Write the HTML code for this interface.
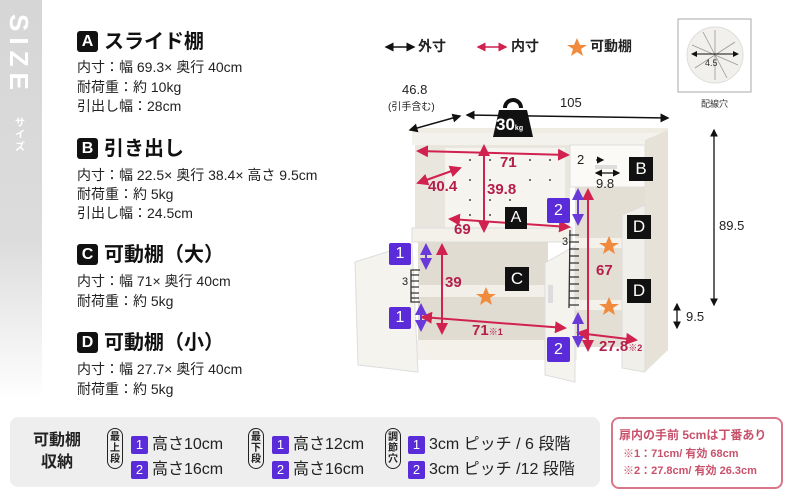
<!DOCTYPE html>
<html><head><meta charset="utf-8">
<style>
body{margin:0;width:800px;height:500px;overflow:hidden;background:#fff;position:relative;font-family:"Liberation Sans","Noto Sans CJK JP",sans-serif;color:#222}
.a{position:absolute;white-space:nowrap}
.side{position:absolute;left:0;top:0;width:42px;height:400px;background:linear-gradient(#d6d6d6 0%,#dcdcdc 60%,#fff 100%)}
.hd{font-size:20px;font-weight:bold;color:#111}
.bx{display:inline-block;width:21px;height:21px;background:#111;color:#fff;border-radius:3px;text-align:center;line-height:21px;font-size:16px;margin-right:6px;vertical-align:2px}
.ln{font-size:14px;color:#222}
.pb{display:inline-block;width:17px;height:18px;background:#5a2bd9;color:#fff;text-align:center;line-height:18px;font-size:13px;border-radius:2px;margin-right:4px}
.row{font-size:16px;color:#222}
.oval{position:absolute;border:1.5px solid #222;border-radius:9px;width:14px;font-size:10px;line-height:11px;text-align:center;font-weight:bold;padding:3px 0}
</style></head><body>
<div class="side"></div>
<div class="a" style="left:10px;top:60px;transform:rotate(90deg);transform-origin:left top;left:34px;top:14px;color:#fff;font-size:26px;font-weight:bold;letter-spacing:6px">SIZE</div>
<div class="a" style="left:15px;top:118px;color:#fff;font-size:10px;width:12px;line-height:12px;white-space:normal;font-weight:bold">サイズ</div>

<div class="a hd" style="left:77px;top:25px"><span class="bx">A</span>スライド棚</div>
<div class="a ln" style="left:77px;top:57px">内寸：幅 69.3× 奥行 40cm</div>
<div class="a ln" style="left:77px;top:77px">耐荷重：約 10kg</div>
<div class="a ln" style="left:77px;top:96px">引出し幅：28cm</div>
<div class="a hd" style="left:77px;top:132px"><span class="bx">B</span>引き出し</div>
<div class="a ln" style="left:77px;top:165px">内寸：幅 22.5× 奥行 38.4× 高さ 9.5cm</div>
<div class="a ln" style="left:77px;top:184px">耐荷重：約 5kg</div>
<div class="a ln" style="left:77px;top:203px">引出し幅：24.5cm</div>
<div class="a hd" style="left:77px;top:238px"><span class="bx">C</span>可動棚（大）</div>
<div class="a ln" style="left:77px;top:271px">内寸：幅 71× 奥行 40cm</div>
<div class="a ln" style="left:77px;top:291px">耐荷重：約 5kg</div>
<div class="a hd" style="left:77px;top:326px"><span class="bx">D</span>可動棚（小）</div>
<div class="a ln" style="left:77px;top:359px">内寸：幅 27.7× 奥行 40cm</div>
<div class="a ln" style="left:77px;top:379px">耐荷重：約 5kg</div>

<svg class="a" style="left:0;top:0" width="800" height="500">
<defs>
<marker id="k" markerWidth="6" markerHeight="6" refX="5" refY="3" orient="auto-start-reverse"><path d="M0,0L6,3L0,6z" fill="#111"/></marker>
<marker id="r" markerWidth="6" markerHeight="6" refX="5" refY="3" orient="auto-start-reverse"><path d="M0,0L6,3L0,6z" fill="#d0214f"/></marker>
<marker id="p" markerWidth="6" markerHeight="6" refX="5" refY="3" orient="auto-start-reverse"><path d="M0,0L6,3L0,6z" fill="#6a3ad8"/></marker>
</defs>
<!-- legend -->
<line x1="386" y1="47" x2="414" y2="47" stroke="#111" stroke-width="1.5" marker-start="url(#k)" marker-end="url(#k)"/>
<line x1="478" y1="47" x2="506" y2="47" stroke="#d0214f" stroke-width="1.5" marker-start="url(#r)" marker-end="url(#r)"/>
<polygon points="577,38 580,45 587,45 581,49 583,56 577,52 571,56 573,49 567,45 574,45" fill="#f08a3c"/>
<!-- wiring hole -->
<rect x="678" y="19" width="73" height="73" fill="#fff" stroke="#aaa"/>
<circle cx="715" cy="55" r="28" fill="#f2f0ec" stroke="#ddd"/>
<g stroke="#999" stroke-width="0.8"><line x1="715" y1="30" x2="715" y2="80"/><line x1="692" y1="45" x2="738" y2="65"/><line x1="695" y1="68" x2="735" y2="42"/><line x1="703" y1="32" x2="727" y2="78"/></g>
<line x1="692" y1="54" x2="738" y2="54" stroke="#111" marker-start="url(#k)" marker-end="url(#k)"/>
<!-- cabinet -->
<polygon points="412,132 420,128 668,128 668,133 412,143" fill="#efece4"/>
<rect x="412" y="133" width="253" height="12" fill="#f4f2ec"/>
<polygon points="645,140 668,130 668,350 645,372" fill="#e6e2d8"/>
<rect x="415" y="145" width="155" height="85" fill="#e9e6de"/>
<rect x="445" y="148" width="120" height="80" fill="#f6f4ef"/>
<g fill="#444">
<circle cx="470" cy="160" r="1"/><circle cx="490" cy="160" r="1"/><circle cx="510" cy="160" r="1"/><circle cx="530" cy="160" r="1"/><circle cx="550" cy="160" r="1"/>
<circle cx="470" cy="180" r="1"/><circle cx="490" cy="180" r="1"/><circle cx="530" cy="180" r="1"/><circle cx="550" cy="180" r="1"/>
<circle cx="470" cy="200" r="1"/><circle cx="490" cy="200" r="1"/><circle cx="510" cy="200" r="1"/><circle cx="550" cy="200" r="1"/>
<circle cx="470" cy="215" r="1"/><circle cx="490" cy="215" r="1"/></g>
<rect x="412" y="228" width="160" height="14" fill="#f3f1ea" stroke="#ddd"/>
<rect x="570" y="145" width="75" height="42" fill="#fbfaf6" stroke="#ddd"/>
<rect x="595" y="165" width="22" height="4" fill="#ddd"/>
<rect x="575" y="187" width="70" height="160" fill="#e3dfd5"/>
<rect x="575" y="238" width="58" height="10" fill="#f3f1ea"/>
<rect x="575" y="300" width="58" height="10" fill="#f3f1ea"/>
<rect x="418" y="242" width="130" height="100" fill="#e0dcd2"/>
<rect x="418" y="285" width="128" height="12" fill="#f1efe8"/>
<rect x="412" y="340" width="165" height="20" fill="#f3f1ea"/>
<polygon points="355,262 412,244 418,372 358,365" fill="#f5f3ee" stroke="#ddd"/>
<polygon points="545,263 575,246 575,382 545,375" fill="#f5f3ee" stroke="#ddd"/>
<rect x="548" y="285" width="5" height="18" fill="#ddd"/>
<polygon points="622,215 645,205 645,372 622,368" fill="#f1efe9" stroke="#ddd"/>
<!-- hinge ladders -->
<g stroke="#333" stroke-width="1.3" fill="none">
<path d="M420,270 L411,270 L411,302 L420,302 M411,275h8M411,281h8M411,287h8M411,293h8M411,298h8"/>
<path d="M570,230 L569,308 M569,235h10M569,242h10M569,249h10M569,256h10M569,263h10M569,270h10M569,277h10M569,284h10M569,291h10M569,298h10M569,305h10"/>
</g>
<!-- outer dims -->
<line x1="467" y1="115" x2="668" y2="118" stroke="#111" stroke-width="1.5" marker-start="url(#k)" marker-end="url(#k)"/>
<line x1="410" y1="130" x2="460" y2="116" stroke="#111" stroke-width="1.5" marker-start="url(#k)" marker-end="url(#k)"/>
<line x1="714" y1="130" x2="714" y2="305" stroke="#111" stroke-width="1.3" marker-start="url(#k)" marker-end="url(#k)"/>
<line x1="677" y1="304" x2="677" y2="328" stroke="#111" stroke-width="1.3" marker-start="url(#k)" marker-end="url(#k)"/>
<!-- weight -->
<path d="M505,108 a8,8 0 1,1 16,0" fill="none" stroke="#111" stroke-width="4"/>
<polygon points="499,110 527,110 533,137 493,137" fill="#111"/>
<!-- inner dims -->
<g stroke="#d0214f" stroke-width="2">
<line x1="418" y1="151" x2="568" y2="155" marker-start="url(#r)" marker-end="url(#r)"/>
<line x1="418" y1="183" x2="460" y2="168" marker-start="url(#r)" marker-end="url(#r)"/>
<line x1="484" y1="146" x2="484" y2="231" marker-start="url(#r)" marker-end="url(#r)"/>
<line x1="450" y1="219" x2="569" y2="227" marker-start="url(#r)" marker-end="url(#r)"/>
<line x1="442" y1="245" x2="442" y2="333" marker-start="url(#r)" marker-end="url(#r)"/>
<line x1="422" y1="317" x2="565" y2="328" marker-start="url(#r)" marker-end="url(#r)"/>
<line x1="588" y1="190" x2="588" y2="350" marker-start="url(#r)" marker-end="url(#r)"/>
<line x1="578" y1="333" x2="636" y2="340" marker-start="url(#r)" marker-end="url(#r)"/>
</g>
<g stroke="#111" stroke-width="1.2">
<line x1="596" y1="160" x2="603" y2="160" marker-end="url(#k)"/>
<line x1="596" y1="173" x2="619" y2="173" marker-start="url(#k)" marker-end="url(#k)"/>
</g>
<g stroke="#6a3ad8" stroke-width="2">
<line x1="426" y1="245" x2="426" y2="268" marker-start="url(#p)" marker-end="url(#p)"/>
<line x1="421" y1="305" x2="421" y2="330" marker-start="url(#p)" marker-end="url(#p)"/>
<line x1="578" y1="190" x2="578" y2="224" marker-start="url(#p)" marker-end="url(#p)"/>
<line x1="578" y1="314" x2="578" y2="346" marker-start="url(#p)" marker-end="url(#p)"/>
</g>
<g fill="#f08a3c">
<polygon points="486,287 489,294 496,294 490,298 492,305 486,301 480,305 482,298 476,294 483,294"/>
<polygon points="609,236 612,243 619,243 613,247 615,254 609,250 603,254 605,247 599,243 606,243"/>
<polygon points="609,297 612,304 619,304 613,308 615,315 609,311 603,315 605,308 599,304 606,304"/>
</g>
</svg>

<div class="a" style="left:418px;top:36px;font-size:14px;font-weight:bold">外寸</div>
<div class="a" style="left:511px;top:36px;font-size:14px;font-weight:bold">内寸</div>
<div class="a" style="left:590px;top:36px;font-size:14px;font-weight:bold">可動棚</div>
<div class="a" style="left:705px;top:58px;font-size:9px;color:#333">4.5</div>
<div class="a" style="left:701px;top:97px;font-size:9px;color:#333">配線穴</div>
<div class="a" style="left:402px;top:82px;font-size:13px">46.8</div>
<div class="a" style="left:388px;top:98px;font-size:10px">(引手含む)</div>
<div class="a" style="left:560px;top:95px;font-size:13px">105</div>
<div class="a" style="left:496px;top:115px;font-size:17px;color:#fff;font-weight:bold">30<span style="font-size:7px">kg</span></div>
<div class="a" style="left:719px;top:218px;font-size:13px">89.5</div>
<div class="a" style="left:686px;top:309px;font-size:13px">9.5</div>

<div class="a" style="font-size:15px;color:#b51e4a;font-weight:bold">
<span class="a" style="left:500px;top:154px">71</span>
<span class="a" style="left:428px;top:178px">40.4</span>
<span class="a" style="left:487px;top:181px">39.8</span>
<span class="a" style="left:454px;top:221px">69</span>
<span class="a" style="left:445px;top:274px">39</span>
<span class="a" style="left:472px;top:322px">71<span style="font-size:9px">※1</span></span>
<span class="a" style="left:596px;top:262px">67</span>
<span class="a" style="left:599px;top:338px">27.8<span style="font-size:9px">※2</span></span>
</div>
<div class="a" style="left:577px;top:152px;font-size:13px">2</div>
<div class="a" style="left:596px;top:176px;font-size:13px">9.8</div>
<div class="a" style="left:402px;top:276px;font-size:11px">3</div>
<div class="a" style="left:562px;top:236px;font-size:11px">3</div>

<div class="a" style="left:505px;top:207px;width:22px;height:22px;background:#111;color:#fff;font-size:16px;text-align:center;line-height:22px">A</div>
<div class="a" style="left:629px;top:157px;width:24px;height:24px;background:#111;color:#fff;font-size:17px;text-align:center;line-height:24px">B</div>
<div class="a" style="left:505px;top:267px;width:24px;height:24px;background:#111;color:#fff;font-size:17px;text-align:center;line-height:24px">C</div>
<div class="a" style="left:627px;top:215px;width:24px;height:24px;background:#111;color:#fff;font-size:17px;text-align:center;line-height:24px">D</div>
<div class="a" style="left:627px;top:279px;width:24px;height:24px;background:#111;color:#fff;font-size:17px;text-align:center;line-height:24px">D</div>
<div class="a" style="left:389px;top:243px;width:22px;height:22px;background:#5a2bd9;color:#fff;font-size:16px;text-align:center;line-height:22px;border-radius:2px">1</div>
<div class="a" style="left:389px;top:307px;width:22px;height:22px;background:#5a2bd9;color:#fff;font-size:16px;text-align:center;line-height:22px;border-radius:2px">1</div>
<div class="a" style="left:547px;top:198px;width:23px;height:25px;background:#5a2bd9;color:#fff;font-size:16px;text-align:center;line-height:25px;border-radius:2px">2</div>
<div class="a" style="left:547px;top:337px;width:23px;height:25px;background:#5a2bd9;color:#fff;font-size:16px;text-align:center;line-height:25px;border-radius:2px">2</div>

<!-- bottom panel -->
<div class="a" style="left:10px;top:417px;width:590px;height:70px;background:#eeeeee;border-radius:8px"></div>
<div class="a" style="left:33px;top:430px;font-size:16px;font-weight:bold;line-height:22px;text-align:center">可動棚<br>収納</div>
<div class="oval" style="left:107px;top:428px">最<br>上<br>段</div>
<div class="a row" style="left:131px;top:430px"><span class="pb">1</span>高さ10cm</div>
<div class="a row" style="left:131px;top:455px"><span class="pb">2</span>高さ16cm</div>
<div class="oval" style="left:248px;top:428px">最<br>下<br>段</div>
<div class="a row" style="left:272px;top:430px"><span class="pb">1</span>高さ12cm</div>
<div class="a row" style="left:272px;top:455px"><span class="pb">2</span>高さ16cm</div>
<div class="oval" style="left:385px;top:428px">調<br>節<br>穴</div>
<div class="a row" style="left:408px;top:430px"><span class="pb">1</span>3cm ピッチ / 6 段階</div>
<div class="a row" style="left:408px;top:455px"><span class="pb">2</span>3cm ピッチ /12 段階</div>
<div class="a" style="left:611px;top:417px;width:168px;height:68px;border:2px solid #d9778a;border-radius:8px;background:#fff"></div>
<div class="a" style="left:619px;top:426px;font-size:12px;color:#c9506a;font-weight:bold">扉内の手前 5cmは丁番あり</div>
<div class="a" style="left:623px;top:445px;font-size:11px;color:#c9506a;font-weight:bold">※1：71cm/ 有効 68cm</div>
<div class="a" style="left:623px;top:462px;font-size:11px;color:#c9506a;font-weight:bold">※2：27.8cm/ 有効 26.3cm</div>
</body></html>
